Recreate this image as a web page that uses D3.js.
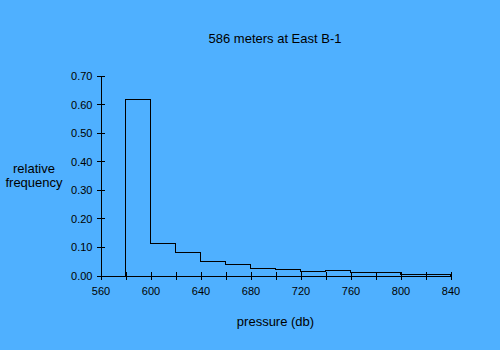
<!DOCTYPE html>
<html>
<head>
<meta charset="utf-8">
<script src="https://cdn.jsdelivr.net/npm/d3@7"></script>
<style>
  html, body { margin: 0; padding: 0; background: #4FB0FF; }
  svg { display: block; }
  text { font-family: "Liberation Sans", Arial, sans-serif; fill: #000; }
</style>
</head>
<body>
<svg id="chart" width="500" height="350"></svg>
<script>
// Data
const binStarts = [580, 600, 620, 640, 660, 680, 700, 720, 740, 760, 780, 800, 820];
const binWidth = 20;
const frequencies = [0.616, 0.112, 0.080, 0.048, 0.040, 0.025, 0.021, 0.014, 0.018, 0.009, 0.009, 0.003, 0.003];
const xTicks = [560, 580, 600, 620, 640, 660, 680, 700, 720, 740, 760, 780, 800, 820, 840];
const xLabels = [560, 600, 640, 680, 720, 760, 800, 840];
const yTicks = [0, 0.1, 0.2, 0.3, 0.4, 0.5, 0.6, 0.7];
const title = "586 meters at East B-1";
const xTitle = "pressure (db)";
const yTitle = ["relative", "frequency"];

const svg = d3.select("#chart");
svg.append("rect").attr("width", 500).attr("height", 350).attr("fill", "#4FB0FF");

const x = d3.scaleLinear().domain([560, 840]).range([100.5, 450.5]);
const y = d3.scaleLinear().domain([0, 0.7]).range([275.5, 75.5]);

// Histogram step outline
const pts = [[binStarts[0], 0]];
binStarts.forEach((b, i) => {
  pts.push([b, frequencies[i]]);
  pts.push([b + binWidth, frequencies[i]]);
});
pts.push([binStarts[binStarts.length - 1] + binWidth, 0]);
const line = d3.line().x(d => x(d[0])).y(d => y(d[1]));
svg.append("path").attr("d", line(pts))
  .attr("fill", "none").attr("stroke", "#000").attr("stroke-width", 1)
  .attr("shape-rendering", "crispEdges");

// X axis
const xAxis = d3.axisBottom(x).tickValues(xTicks).tickSize(4).tickSizeOuter(0)
  .tickFormat(d => xLabels.includes(d) ? String(d) : "");
const gx = svg.append("g").attr("transform", "translate(0," + y(0) + ")").call(xAxis);
gx.select(".domain").attr("stroke", "#000").attr("shape-rendering", "crispEdges");
gx.selectAll(".tick line").attr("y1", -4).attr("y2", 4).attr("stroke", "#000").attr("shape-rendering", "crispEdges");
gx.selectAll(".tick text").attr("y", 19.3).attr("dy", 0).attr("font-size", 11)
  .attr("font-family", "Liberation Sans, Arial, sans-serif").attr("fill", "#000");

// Y axis
const yAxis = d3.axisLeft(y).tickValues(yTicks).tickSize(4).tickSizeOuter(0)
  .tickFormat(d3.format(".2f"));
const gy = svg.append("g").attr("transform", "translate(" + x(560) + ",0)").call(yAxis);
gy.select(".domain").attr("stroke", "#000").attr("shape-rendering", "crispEdges");
gy.selectAll(".tick line").attr("x1", -4).attr("x2", 4).attr("stroke", "#000").attr("shape-rendering", "crispEdges");
gy.selectAll(".tick text").attr("x", -8).attr("dy", "0.36em").attr("font-size", 11)
  .attr("font-family", "Liberation Sans, Arial, sans-serif").attr("fill", "#000");

// Title
svg.append("text").attr("x", 275).attr("y", 43).attr("text-anchor", "middle")
  .attr("font-size", 13).text(title);

// X title
svg.append("text").attr("x", 275.5).attr("y", 325.5).attr("text-anchor", "middle")
  .attr("font-size", 13).text(xTitle);

// Y title
const yt = svg.append("text").attr("text-anchor", "middle").attr("font-size", 13);
yTitle.forEach((t, i) => {
  yt.append("tspan").attr("x", 34).attr("y", 173 + i * 13.5).text(t);
});
</script>
</body>
</html>
